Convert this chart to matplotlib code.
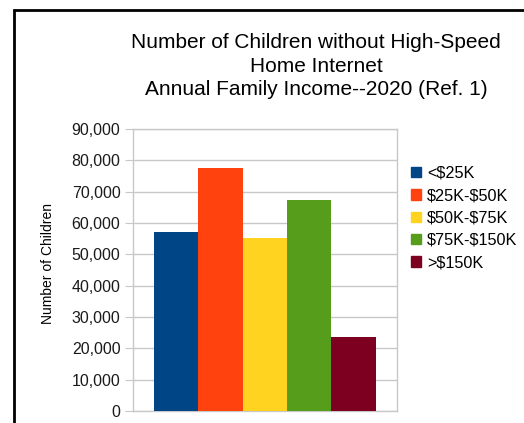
import numpy as np
import matplotlib
matplotlib.use("Agg")
import matplotlib.pyplot as plt
import matplotlib.patches as patches
from matplotlib.ticker import FuncFormatter

plt.rcParams['font.family'] = ['Liberation Sans', 'DejaVu Sans']
plt.rcParams['text.parse_math'] = False

# income brackets (one series each) and number of children
brackets = ['<$25K', '$25K-$50K', '$50K-$75K', '$75K-$150K', '>$150K']
children = [57200, 77400, 55300, 67200, 23700]
colors = ['#004586', '#ff420e', '#ffd320', '#579d1c', '#7e0021']
yticks = np.arange(0, 90001, 10000)

title = ('Number of Children without High-Speed\nHome Internet\n'
         'Annual Family Income--2020 (Ref. 1)')

W, H = 524, 423
fig = plt.figure(figsize=(W / 100, H / 100), dpi=100)

# outer chart border (runs off the right and bottom of the image)
fig.patches.append(patches.Rectangle((14 / W, -0.1), 1.2, 1 - 10 / H + 0.1,
                                     transform=fig.transFigure, fill=False,
                                     edgecolor='black', linewidth=2))

ax = fig.add_axes([133 / W, 12 / H, (397 - 133) / W, (411 - 129) / H])

x = np.arange(len(brackets))
for xi, val, col, lab in zip(x, children, colors, brackets):
    ax.bar(xi, val, width=1.0, color=col, label=lab, zorder=3)

ax.set_xlim(-0.975, 4.98)
ax.set_ylim(0, 90000)
ax.set_yticks(yticks)
ax.yaxis.set_major_formatter(FuncFormatter(lambda v, p: f'{int(v):,}'))
ax.set_xticks([])
ax.grid(axis='y', color='#c8c8c8', linewidth=1, zorder=0)
for s in ax.spines.values():
    s.set_color('#c8c8c8')
    s.set_linewidth(1)
ax.tick_params(axis='y', direction='out', length=6, color='#c8c8c8',
               labelsize=11.5, labelcolor='#1a1a1a', pad=3)

fig.text(48 / W, 1 - 264 / H, 'Number of Children', rotation=90,
         ha='center', va='center', fontsize=10)

fig.text(316 / W, 1 - 66 / H, title, ha='center', va='center',
         fontsize=15, linespacing=1.28)

fig.legend(handles=[patches.Patch(color=c, label=l) for c, l in zip(colors, brackets)],
           loc='center left', bbox_to_anchor=(411 / W, 1 - 218 / H),
           frameon=False, fontsize=11.7, handlelength=0.6, handleheight=0.6,
           handletextpad=0.4, labelspacing=0.45, borderpad=0, borderaxespad=0)

fig.savefig('out.png', dpi=100)
